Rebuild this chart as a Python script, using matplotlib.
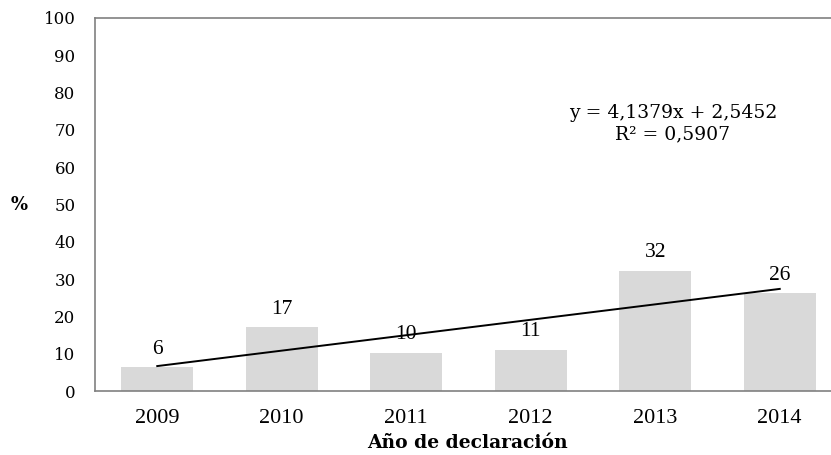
import matplotlib
matplotlib.use("Agg")
import matplotlib.pyplot as plt
import numpy as np

# data
years = ["2009", "2010", "2011", "2012", "2013", "2014"]
percent = [6.4, 17.1, 10.3, 11.1, 32.3, 26.2]
trend_slope = 4.1379
trend_intercept = 2.5452
r_squared = 0.5907

W, H = 831, 455
fig = plt.figure(figsize=(W / 100, H / 100), dpi=100)
# plot area runs past the right edge, as in the cropped original
ax = fig.add_axes([95 / W, 1 - 391 / H, 747 / W, 373 / H])

x = np.arange(len(years))
ax.bar(x, percent, width=0.58, color="#d9d9d9", zorder=1)

# linear trendline (Excel style, x = 1..n)
xt = x + 1
ax.plot(x, trend_slope * xt + trend_intercept, color="black", linewidth=1.4, zorder=2)

for xi, val in zip(x, percent):
    ax.annotate(f"{val:.0f}", (xi, val), xytext=(0, 6), textcoords="offset points",
                ha="center", va="bottom", fontsize=15.5, family="Liberation Serif")

ax.set_xlim(-0.5, len(years) - 0.5)
ax.set_ylim(0, 100)
ax.set_yticks(range(0, 101, 10))
ax.set_xticks(x)
ax.set_xticklabels(years, family="Liberation Serif", fontsize=16)
for lbl in ax.get_yticklabels():
    lbl.set_family("DejaVu Serif")
    lbl.set_fontsize(12)
ax.tick_params(length=0, pad=14, axis="y")
ax.tick_params(length=0, pad=13, axis="x")

ax.spines["right"].set_visible(False)
for sp in ax.spines.values():
    sp.set_color("#808080")
    sp.set_linewidth(1.2)

eq = f"y = {trend_slope:.4f}x + {trend_intercept:.4f}".replace(".", ",")
r2 = f"R² = {r_squared:.4f}".replace(".", ",")
fig.text(673 / W, 1 - 124 / H, eq + "\n" + r2, ha="center", va="center",
         fontsize=13.5, family="DejaVu Serif", linespacing=1.25)

fig.text(19 / W, 1 - 205 / H, "%", ha="center", va="center",
         fontsize=13, fontweight="bold", family="DejaVu Serif")
fig.text(467 / W, 1 - 443 / H, "Año de declaración", ha="center", va="center",
         fontsize=13.5, fontweight="bold", family="DejaVu Serif")

fig.savefig("out.png", dpi=100)
